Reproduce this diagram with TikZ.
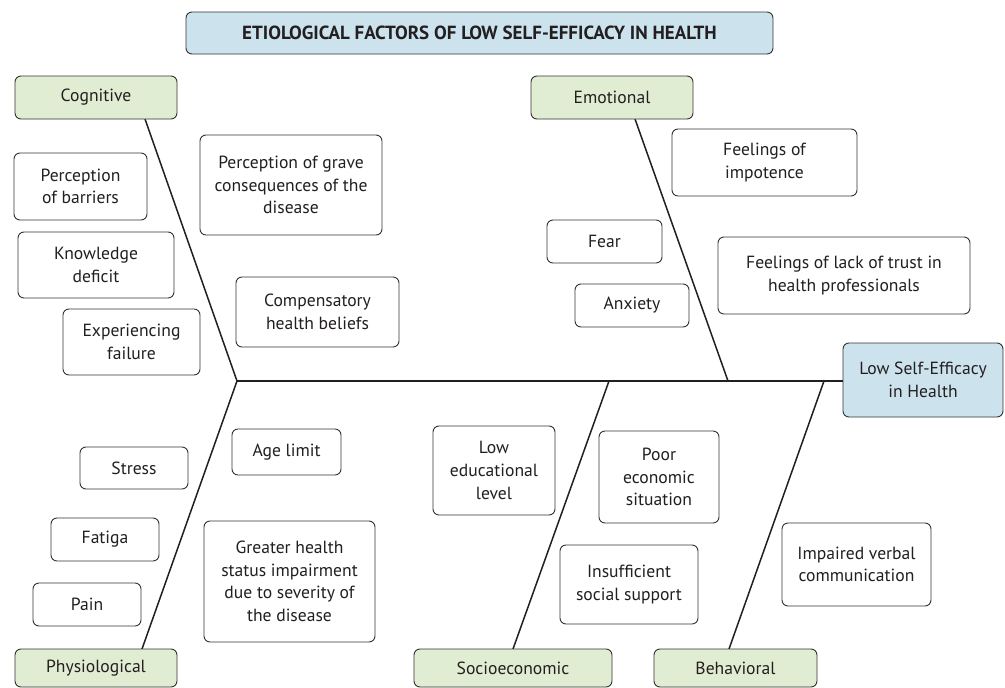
\documentclass[tikz,border=0pt]{standalone}
\usepackage{fontspec}
\setmainfont{PT Sans}
\usetikzlibrary{calc}
\definecolor{bluefill}{HTML}{CCE3EE}
\definecolor{greenfill}{HTML}{E1EDD2}
\definecolor{edge}{HTML}{333333}
\definecolor{ink}{HTML}{231F20}
\tikzset{
  box/.style={draw=edge, line width=0.9pt, rounded corners=6pt, fill=white, align=center,
    inner sep=0pt, font=\fontsize{17.6}{22.6}\selectfont, text=ink},
  catbox/.style={box, fill=greenfill},
  headbox/.style={box, fill=bluefill},
  bone/.style={draw=ink, line width=1.5pt},
  spine/.style={draw=ink, line width=2pt},
}
\begin{document}
\begin{tikzpicture}[x=1pt,y=-1pt]
\useasboundingbox (0,0) rectangle (1005,688);
% title
\node[headbox, minimum width=587, minimum height=42, font=\bfseries\fontsize{19}{22}\selectfont] (title) at (479.5,33) {ETIOLOGICAL FACTORS OF LOW SELF-EFFICACY IN HEALTH};
% attachment coordinates
\coordinate (cogT) at (145,119);
\coordinate (emoT) at (635,119);
\coordinate (phyB) at (142,649);
\coordinate (socB) at (513,649);
\coordinate (behB) at (729,649);
\coordinate (h1) at (237,381);
\coordinate (h2) at (728,381);
\coordinate (h3) at (609,381);
\coordinate (h4) at (824,381);
\coordinate (spS) at (236,381);
% bones
\draw[bone] (cogT) -- (h1);
\draw[bone] (emoT) -- (h2);
\draw[bone] (phyB) -- (h1);
\draw[bone] (socB) -- (h3);
\draw[bone] (behB) -- (h4);
% head
\node[headbox, minimum width=160, minimum height=74] (lowse) at (923,380) {Low Self-Efficacy\\in Health};
\draw[spine] (spS) -- (lowse.west |- spS);
% categories
\node[catbox, minimum width=162, minimum height=43] (cog) at (96,97.5) {Cognitive};
\node[catbox, minimum width=162, minimum height=43] (emo) at (612,97.5) {Emotional};
\node[catbox, minimum width=162, minimum height=38] (phy) at (96,668) {Physiological};
\node[catbox, minimum width=198, minimum height=38] (soc) at (513,668) {Socioeconomic};
\node[catbox, minimum width=163, minimum height=38] (beh) at (735.5,668) {Behavioral};
% cognitive causes
\node[box, minimum width=133, minimum height=67] (barr) at (80.5,186.5) {Perception\\of barriers};
\node[box, minimum width=156, minimum height=66] (know) at (96,265) {Knowledge\\deficit};
\node[box, minimum width=137, minimum height=66] (fail) at (131.5,342) {Experiencing\\failure};
\node[box, minimum width=182, minimum height=100] (grave) at (291,185) {Perception of grave\\consequences of the\\disease};
\node[box, minimum width=163, minimum height=70] (comp) at (317.5,312) {Compensatory\\health beliefs};
% emotional causes
\node[box, minimum width=185, minimum height=67] (impo) at (764.5,162.5) {Feelings of\\impotence};
\node[box, minimum width=115, minimum height=43] (fear) at (604.5,241.5) {Fear};
\node[box, minimum width=114, minimum height=43] (anx) at (632,305.5) {Anxiety};
\node[box, minimum width=252, minimum height=77] (trust) at (844,275.5) {Feelings of lack of trust in\\health professionals};
% physiological causes
\node[box, minimum width=108, minimum height=42] (stress) at (134,468) {Stress};
\node[box, minimum width=108, minimum height=43] (fat) at (105,539.5) {Fatiga};
\node[box, minimum width=108, minimum height=43] (pain) at (87,604.5) {Pain};
\node[box, minimum width=109, minimum height=46] (age) at (286.5,452) {Age limit};
\node[box, minimum width=171, minimum height=121] (great) at (289.5,581.5) {Greater health\\status impairment\\due to severity of\\the disease};
% socioeconomic causes
\node[box, minimum width=122, minimum height=89] (edu) at (494,470.5) {Low\\educational\\level};
\node[box, minimum width=120, minimum height=92] (poor) at (659,477) {Poor\\economic\\situation};
\node[box, minimum width=138, minimum height=79] (insuf) at (629,584.5) {Insufficient\\social support};
% behavioral causes
\node[box, minimum width=149, minimum height=83] (verb) at (856.5,564.5) {Impaired verbal\\communication};
\end{tikzpicture}
\end{document}
